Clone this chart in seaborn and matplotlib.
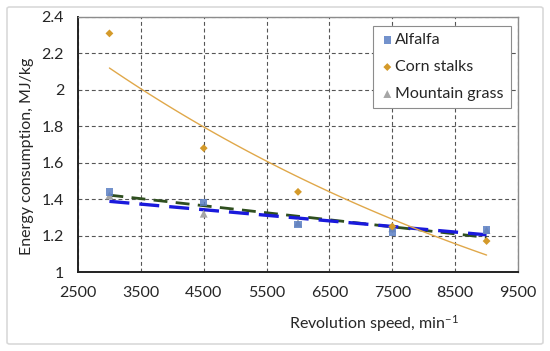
import numpy as np
import pandas as pd
import matplotlib
matplotlib.use('Agg')
import matplotlib.pyplot as plt
import seaborn as sns
from matplotlib.patches import FancyBboxPatch

# データ
speed = [3000, 4500, 6000, 7500, 9000]
alfalfa = [1.44, 1.38, 1.26, 1.22, 1.23]
corn = [2.31, 1.68, 1.44, 1.25, 1.17]
mountain = [1.42, 1.32, 1.27, 1.24, 1.23]
x_ticks = [2500, 3500, 4500, 5500, 6500, 7500, 8500, 9500]
y_ticks = [1, 1.2, 1.4, 1.6, 1.8, 2, 2.2, 2.4]

sns.set_style('white')
plt.rcParams['font.family'] = ['Lato', 'DejaVu Sans']
plt.rcParams['mathtext.default'] = 'regular'

fig = plt.figure(figsize=(5.5, 3.51), dpi=100)
ax = fig.add_axes([78 / 550, 79 / 351, 440 / 550, 255 / 351])

# 外枠
fig.patches.append(FancyBboxPatch((7 / 550, 7 / 351), 536 / 550, 337 / 351,
                                  boxstyle='round,pad=0,rounding_size=0.005',
                                  transform=fig.transFigure, fill=False,
                                  edgecolor='#d9d9d9', linewidth=1.2))

# トレンドライン
xs = np.linspace(3000, 9000, 50)
a_fit = np.polyfit(speed, alfalfa, 1)
m_fit = np.polyfit(speed, mountain, 1)
c_fit = np.polyfit(speed, np.log(corn), 1)
trend = pd.DataFrame({'x': xs,
                      'alf': np.polyval(a_fit, xs),
                      'mtn': np.polyval(m_fit, xs),
                      'corn': np.exp(np.polyval(c_fit, xs))})

sns.lineplot(data=trend, x='x', y='alf', ax=ax, color='#2f4f1f', linewidth=2,
             zorder=3).lines[-1].set_dashes((5, 3))
sns.lineplot(data=trend, x='x', y='mtn', ax=ax, color='#1a1adc', linewidth=2.4,
             zorder=4).lines[-1].set_dashes((6, 3))
sns.lineplot(data=trend, x='x', y='corn', ax=ax, color='#e0a84a', linewidth=1,
             zorder=4)

# 点
df = pd.DataFrame({'speed': speed, 'alfalfa': alfalfa, 'corn': corn, 'mountain': mountain})
sns.scatterplot(data=df, x='speed', y='mountain', ax=ax, marker='^', s=32,
                color='#a6a6a6', edgecolor='none', label='Mountain grass', zorder=5)
sns.scatterplot(data=df, x='speed', y='alfalfa', ax=ax, marker='s', s=28,
                color='#5b7fc4', edgecolor='none', alpha=0.85, label='Alfalfa', zorder=6)
sns.scatterplot(data=df, x='speed', y='corn', ax=ax, marker='D', s=16,
                color='#d49a2a', edgecolor='none', label='Corn stalks', zorder=6)

ax.set_xlim(2500, 9500)
ax.set_ylim(1, 2.4)
ax.set_xticks(x_ticks)
ax.set_yticks(y_ticks)
ax.set_yticklabels([f'{v:g}' for v in y_ticks])
ax.tick_params(length=0, labelsize=11.5, pad=10, colors='#262626')
ax.grid(True, color='#555555', linestyle=(0, (3.5, 2.5)), linewidth=0.8)

for s in ['left', 'bottom']:
    ax.spines[s].set_color('#222222')
    ax.spines[s].set_linewidth(1.4)
for s in ['top', 'right']:
    ax.spines[s].set_color('#8c8c8c')
    ax.spines[s].set_linewidth(1)

ax.set_xlabel('Revolution speed, min$^{-1}$', fontsize=11.5, color='#262626')
ax.xaxis.set_label_coords(0.672, -0.16)
ax.set_ylabel('Energy consumption, MJ/kg', fontsize=11.5, color='#262626')
ax.yaxis.set_label_coords(-0.1, 0.455)

h, l = ax.get_legend_handles_labels()
order = [l.index('Alfalfa'), l.index('Corn stalks'), l.index('Mountain grass')]
leg = ax.legend([h[i] for i in order], [l[i] for i in order], loc='upper right',
                bbox_to_anchor=(0.984, 0.965), frameon=True, fancybox=False,
                edgecolor='#8c8c8c', framealpha=1, fontsize=11.5, labelspacing=0.8,
                handletextpad=0.05, handlelength=0.9, borderpad=0.45,
                borderaxespad=0)
leg.get_frame().set_linewidth(0.8)
for t in leg.get_texts():
    t.set_color('#262626')

fig.savefig('out.png', dpi=100, facecolor='white')
